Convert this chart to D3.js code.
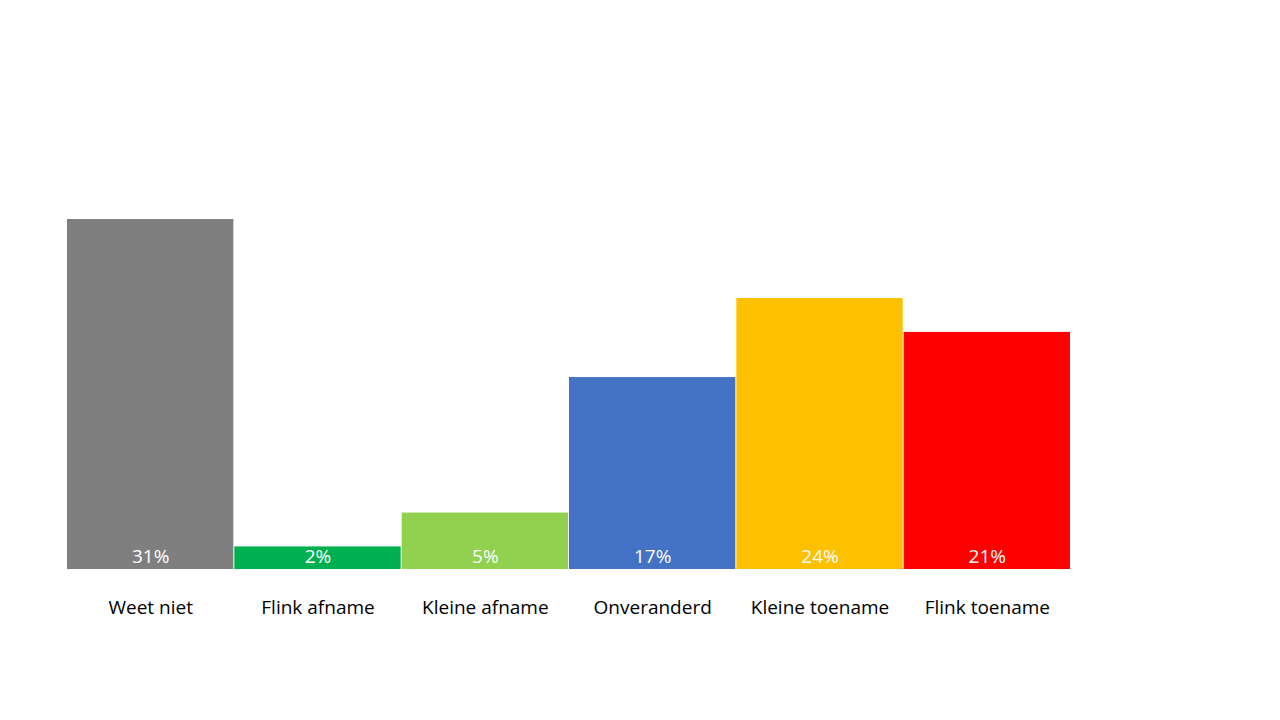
<!DOCTYPE html>
<html><head><meta charset="utf-8">
<script src="https://cdn.jsdelivr.net/npm/d3@7"></script>
<style>body{margin:0;background:#fff}</style></head>
<body><svg id="c" width="1280" height="720"></svg>
<script>
const categories = ["Weet niet","Flink afname","Kleine afname","Onveranderd","Kleine toename","Flink toename"];
const values = [31,2,5,17,24,21];
const labels = ["31%","2%","5%","17%","24%","21%"];
const colors = ["#7f7f7f","#00b050","#92d050","#4472c4","#ffc000","#ff0000"];

const svg = d3.select("#c");
const x = d3.scaleBand().domain(categories).range([67,1071]).padding(0);
const y = d3.scaleLinear().domain([0,31]).range([569,219]);

svg.selectAll("rect.bar").data(values).join("rect")
  .attr("x",(d,i)=>x(categories[i]))
  .attr("width",x.bandwidth()-1)
  .attr("y",d=>y(d))
  .attr("height",d=>y(0)-y(d))
  .attr("fill",(d,i)=>colors[i]);

svg.selectAll("text.val").data(labels).join("text")
  .attr("x",(d,i)=>x(categories[i])+x.bandwidth()/2)
  .attr("y",563)
  .attr("text-anchor","middle")
  .attr("font-family","Open Sans, sans-serif")
  .attr("font-size",19)
  .attr("fill","#fff")
  .text(d=>d);

const xa = svg.append("g").attr("transform","translate(0,569)")
  .call(d3.axisBottom(x).tickSize(0).tickPadding(32));
xa.select(".domain").remove();
xa.selectAll("text").attr("font-family","Open Sans, sans-serif").attr("font-size",19).attr("fill","#000");
</script></body></html>
